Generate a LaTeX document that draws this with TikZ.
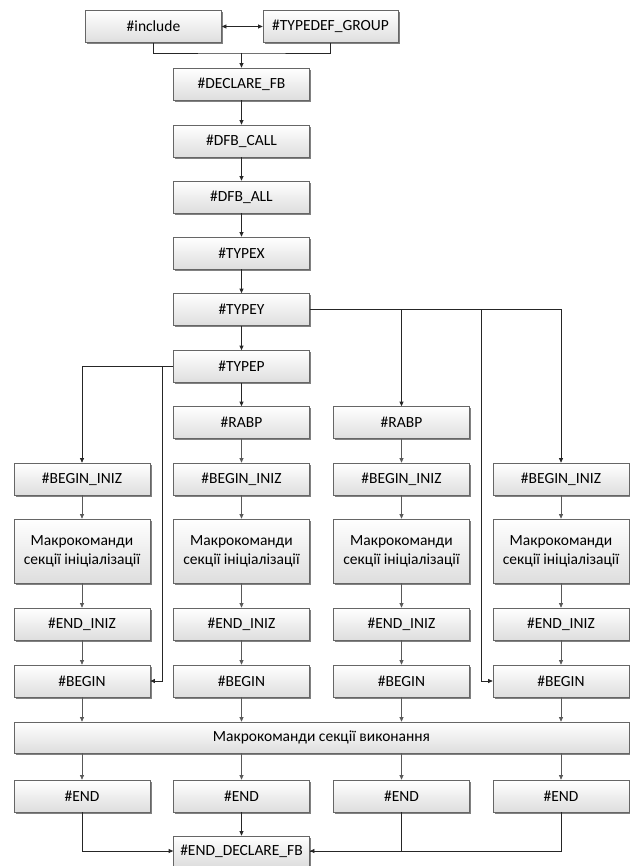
\documentclass[tikz,border=0pt]{standalone}
\usepackage{fontspec}
\setmainfont{Carlito}
\usetikzlibrary{arrows.meta,shadows,calc}
\tikzset{
  box/.style={draw=black!60, line width=0.7pt, top color=white, bottom color=black!13,
    minimum width=136pt, minimum height=32pt, inner sep=1pt, align=center,
    font=\fontsize{15.5}{19}\selectfont,
    drop shadow={shadow xshift=1.6pt, shadow yshift=-1.6pt, fill=black!55, opacity=0.9}},
  conn/.style={draw=black!85, line width=0.7pt},
  arr/.style={conn, -{Triangle[length=4.5pt,width=4pt]}},
  sarr/.style={draw=black!65, line width=0.7pt, -{Triangle[length=4.5pt,width=4pt]}}
}
\begin{document}
\begin{tikzpicture}[x=1pt,y=-1pt]
\useasboundingbox (0,0) rectangle (629,866);
% top chain
\node[box] (include) at (153.5,26.5) {\#include};
\node[box, minimum width=135pt] (typedef) at (330.5,26.5) {\#TYPEDEF\_GROUP};
\node[box] (declare) at (241.5,84) {\#DECLARE\_FB};
\node[box] (dfbcall) at (241.5,141) {\#DFB\_CALL};
\node[box] (dfball) at (241.5,197) {\#DFB\_ALL};
\node[box] (typex) at (241.5,253) {\#TYPEX};
\node[box] (typey) at (241.5,309.5) {\#TYPEY};
\node[box] (typep) at (241.5,366.5) {\#TYPEP};
\node[box] (rabp2) at (241.5,422.5) {\#RABP};
\node[box] (rabp3) at (401.5,422.5) {\#RABP};
% columns
\foreach \i/\x in {1/82,2/241.5,3/401.5,4/561}{
  \node[box] (bi\i) at (\x,479) {\#BEGIN\_INIZ};
  \node[box, minimum height=64pt] (mk\i) at (\x,551) {Макрокоманди\\секції ініціалізації};
  \node[box] (ei\i) at (\x,624) {\#END\_INIZ};
  \node[box] (bg\i) at (\x,681) {\#BEGIN};
  \node[box] (en\i) at (\x,796) {\#END};
}
\node[box, minimum width=615pt, minimum height=31pt] (exec) at (321.5,737.5) {Макрокоманди секції виконання};
\node[box, minimum height=30pt] (enddecl) at (241.5,851) {\#END\_DECLARE\_FB};
% coordinates
\coordinate (m) at (241.5,53);
\coordinate (p1) at (162,366.5);
\coordinate (y4) at (481,309.5);
% top connectors
\draw[conn, {Triangle[length=4.5pt,width=4pt]}-{Triangle[length=4.5pt,width=4pt]}] (include.east) -- (typedef.west);
\draw[conn] (include.south) |- (m) -| (typedef.south);
\draw[arr] (m) -- (declare.north);
\draw[arr] (declare) -- (dfbcall);
\draw[arr] (dfbcall) -- (dfball);
\draw[arr] (dfball) -- (typex);
\draw[arr] (typex) -- (typey);
\draw[arr] (typey) -- (typep);
\draw[arr] (typep) -- (rabp2);
\draw[arr] (typey.east) -| (bi4.north);
\draw[arr] (rabp3.north |- typey.east) -- (rabp3.north);
\draw[arr] (y4) |- (bg4.west);
\draw[arr] (typep.west) -| (bi1.north);
\draw[arr] (p1) |- (bg1.east);
\draw[sarr] (rabp2) -- (bi2);
\draw[sarr] (rabp3) -- (bi3);
\foreach \i in {1,2,3,4}{
  \draw[sarr] (bi\i) -- (mk\i);
  \draw[sarr] (mk\i) -- (ei\i);
  \draw[sarr] (ei\i) -- (bg\i);
  \draw[sarr] (bg\i.south) -- (bg\i.south |- exec.north);
  \draw[sarr] (en\i.north |- exec.south) -- (en\i.north);
}
\draw[arr] (en1.south) |- (enddecl.west);
\draw[arr] (en2.south) -- (enddecl.north);
\draw[arr] (en3.south) |- (enddecl.east);
\draw[conn] (en4.south) |- (enddecl.east);
\end{tikzpicture}
\end{document}
